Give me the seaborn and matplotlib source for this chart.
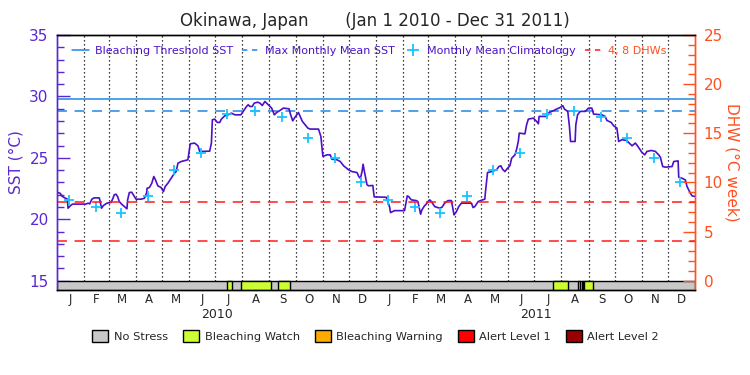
import pandas as pd
import matplotlib
matplotlib.use("Agg")
import matplotlib.pyplot as plt
import matplotlib.transforms as mtransforms
from matplotlib.lines import Line2D
from matplotlib.patches import Patch
from matplotlib.ticker import MultipleLocator
import seaborn as sns

# SST trace: days since 1 Jan 2010, degC
day_2010 = [0, 3.4, 6.1, 11.9, 12.6, 15.7, 17.6, 32.9, 35.6, 37.5, 39.8, 42.5, 48.3, 49.4,
            50.9, 53.2, 57.1, 61.7, 63.6, 65.5, 67.4, 69.3, 71.2, 73.9, 77.0, 80.0, 80.8,
            82.7, 85.4, 87.3, 90.4, 96.1, 100.0, 102.6, 103.0, 105.7, 108.4, 110.7, 112.6,
            115.3, 119.1, 121.8, 123.7, 126.8, 130.6, 134.4, 136.3, 138.3, 142.1, 149.7,
            152.4, 157.4, 161.2, 163.2, 174.6, 176.6, 177.7, 180.4, 183.4, 186.1, 188.0,
            191.9, 195.7, 199.5, 203.4, 210.3, 212.9, 216.8, 218.7, 220.6, 223.3, 225.6,
            229.4, 232.1, 234.8, 237.8, 241.7, 245.5, 248.6, 251.2, 255.1, 258.9, 265.4,
            266.9, 269.6, 271.5, 274.2, 276.1, 278.1, 280.7, 283.8, 286.9, 289.5, 299.1,
            301.8, 304.1, 308.7, 312.5, 314.4, 320.2, 324.0, 327.8, 333.6, 337.4, 343.2,
            345.1, 347.0, 348.9, 350.1, 351.6, 353.5, 354.6, 356.6, 361.2]
sst_2010 = [22.20, 22.12, 21.85, 21.63, 20.90, 21.12, 21.23, 21.23, 21.31, 21.25, 21.63,
            21.74, 21.74, 21.44, 20.90, 21.12, 21.31, 21.36, 21.63, 21.99, 22.04, 21.85,
            21.44, 21.23, 21.04, 20.85, 21.58, 22.17, 22.20, 21.99, 21.63, 21.63, 21.71,
            22.17, 22.52, 22.58, 22.93, 23.48, 23.21, 22.72, 22.58, 22.25, 22.66, 22.93,
            23.34, 23.75, 23.88, 24.56, 24.70, 24.84, 26.14, 26.20, 25.98, 25.52, 25.54,
            26.20, 28.10, 28.15, 27.88, 27.88, 28.15, 28.42, 28.50, 28.64, 28.50, 28.50,
            28.77, 29.18, 29.32, 29.18, 29.18, 29.45, 29.53, 29.45, 29.26, 29.59, 29.32,
            29.05, 28.50, 28.69, 28.86, 29.05, 28.99, 28.58, 28.01, 28.23, 28.50, 28.69,
            28.37, 27.96, 27.69, 27.42, 27.34, 27.34, 26.74, 25.11, 25.24, 25.24, 24.89,
            24.84, 24.70, 24.35, 24.02, 23.88, 23.80, 23.48, 23.34, 23.88, 24.48, 23.88,
            23.20, 22.80, 22.72, 22.75]
day_2011 = [362.8, 376.5, 380.3, 381.5, 386.0, 397.5, 400.6, 402.1, 405.2, 410.9, 412.8,
            415.9, 417.4, 419.7, 422.4, 426.2, 428.2, 432.0, 437.7, 440.4, 443.4, 447.2,
            451.1, 454.1, 456.8, 459.5, 462.5, 474.0, 475.9, 477.9, 481.7, 486.7, 489.3,
            490.1, 492.4, 497.0, 502.7, 505.4, 507.7, 509.6, 512.3, 515.4, 518.0, 520.0,
            523.8, 525.7, 527.6, 528.7, 535.2, 537.1, 539.1, 544.8, 548.6, 550.6, 551.4,
            560.2, 562.9, 565.9, 569.8, 575.5, 578.5, 580.5, 584.2, 586.1, 587.4, 592.6,
            593.4, 595.4, 598.4, 604.2, 608.0, 611.7, 613.7, 623.2, 627.0, 629.0, 633.9,
            636.6, 640.4, 642.4, 646.2, 651.9, 653.8, 657.7, 661.5, 664.5, 669.1, 672.2,
            674.8, 679.8, 684.4, 688.2, 690.1, 692.8, 695.8, 703.5, 705.4, 710.4, 711.1,
            714.9, 718.7, 720.6, 724.4, 726.4, 730.0]
sst_2011 = [21.82, 21.79, 21.03, 20.54, 20.70, 20.70, 21.90, 21.85, 21.58, 21.52, 21.44,
            20.41, 20.76, 21.03, 21.25, 21.58, 21.44, 21.03, 20.90, 20.98, 21.31, 21.52,
            21.52, 20.35, 20.62, 21.03, 21.31, 21.31, 20.95, 21.03, 21.44, 21.58, 21.63,
            22.25, 23.80, 23.88, 24.02, 24.29, 24.35, 24.07, 23.88, 24.16, 24.35, 24.97,
            25.24, 25.70, 26.33, 27.01, 26.95, 27.69, 28.15, 28.23, 27.96, 27.77, 28.37,
            28.37, 28.69, 28.78, 28.91, 29.10, 29.24, 28.96, 28.78, 27.55, 26.33, 26.33,
            27.69, 28.50, 28.78, 28.78, 29.05, 29.05, 28.56, 28.50, 28.37, 28.04, 27.88,
            27.61, 27.42, 26.33, 26.47, 26.41, 26.25, 25.98, 26.20, 25.92, 25.43, 25.24,
            25.52, 25.60, 25.52, 25.24, 25.05, 24.29, 24.24, 24.29, 24.70, 24.75, 23.42,
            23.34, 23.20, 22.66, 22.12, 21.90, 21.85]

# monthly mean climatology (Jan..Dec), same both years
clim_sst = [21.6, 21.0, 20.5, 21.9, 24.0, 25.4, 28.6, 28.8, 28.3, 26.6, 24.95, 23.0]

mmm = 28.8
bleach_thresh = 29.8
dhw_levels = [4, 8]

# bleaching watch periods
watch_start = ["2010-07-15", "2010-07-30", "2010-09-11", "2011-07-22", "2011-08-20",
               "2011-08-24", "2011-08-27"]
watch_end = ["2010-07-20", "2010-09-03", "2010-09-25", "2011-08-09", "2011-08-22",
             "2011-08-26", "2011-09-06"]

month_letters = ["J", "F", "M", "A", "M", "J", "J", "A", "S", "O", "N", "D"]
years = ["2010", "2011"]

stress_names = ["No Stress", "Bleaching Watch", "Bleaching Warning", "Alert Level 1", "Alert Level 2"]
stress_colors = ["#c8c8c8", "#ccff33", "#ffaa00", "#ff0000", "#990000"]

# colours
c_sst = "#4d0fc8"
c_left = "#5a28d2"
c_thr = "#1e88e5"
c_clim = "#19c3ff"
c_dhw = "#ff1a1a"
c_right = "#ff5020"

t0 = pd.Timestamp("2010-01-01")
month_starts = pd.date_range("2010-01-01", "2012-01-01", freq="MS")
ms_day = [(d - t0).days for d in month_starts]
mid_day = [(a + b) / 2 for a, b in zip(ms_day[:-1], ms_day[1:])]
clim_day = [(d - t0).days + 14 for d in month_starts[:-1]]

df = pd.DataFrame({"day": day_2010 + day_2011, "sst": sst_2010 + sst_2011})
clim = pd.DataFrame({"day": clim_day, "sst": clim_sst * 2})

sns.set_style("white")
plt.rcParams["font.family"] = ["DejaVu Sans"]

fig = plt.figure(figsize=(7.5, 3.75), dpi=100)
ax = fig.add_axes([0.076, 0.2267, 0.851, 0.68])
ax2 = ax.twinx()

y_lo = 14.24
ax.set_xlim(0, 730)
ax.set_ylim(y_lo, 35)
ax2.set_ylim(-0.95, 25)

# stress bar along the bottom
ax.broken_barh([(0, 730)], (y_lo, 15 - y_lo), facecolors=stress_colors[0],
               edgecolor="black", linewidth=1, zorder=3)
for s, e in zip(watch_start, watch_end):
    a = (pd.Timestamp(s) - t0).days
    b = (pd.Timestamp(e) - t0).days
    ax.broken_barh([(a, b - a)], (y_lo, 15 - y_lo), facecolors=stress_colors[1],
                   edgecolor="black", linewidth=1, zorder=3)

# month boundaries
bar_top = (15 - y_lo) / (35 - y_lo)
for d in ms_day[1:-1]:
    ax.axvline(d, ymin=bar_top, ymax=1, color="black", linestyle=(0, (1, 2.2)),
               linewidth=0.9, zorder=1)

ax.axhline(bleach_thresh, color=c_thr, linewidth=1.1, zorder=2)
ax.axhline(mmm, color=c_thr, linewidth=1.1, linestyle=(0, (6.5, 5)), zorder=2)
for lv in dhw_levels:
    ax2.axhline(lv, color=c_dhw, linewidth=1.1, linestyle=(0, (6.5, 5)), zorder=2)

sns.lineplot(data=df, x="day", y="sst", ax=ax, color=c_sst, linewidth=1.2,
             sort=False, estimator=None, zorder=4)
sns.scatterplot(data=clim, x="day", y="sst", ax=ax, marker="+", s=60, color=c_clim,
                linewidth=1.3, zorder=5)

# axes styling
ax.set_xlabel("")
ax.set_ylabel("SST (°C)", color=c_left, fontsize=11, labelpad=4)
ax2.set_ylabel("DHW (°C week)", color=c_right, fontsize=11, rotation=270, labelpad=12)

ax.yaxis.set_major_locator(MultipleLocator(5))
ax.yaxis.set_minor_locator(MultipleLocator(1))
ax2.yaxis.set_major_locator(MultipleLocator(5))
ax2.yaxis.set_minor_locator(MultipleLocator(1))
ax.tick_params(axis="y", which="major", direction="in", length=9, width=1,
               color=c_left, labelcolor=c_left, labelsize=11, pad=6)
ax.tick_params(axis="y", which="minor", direction="in", length=5, width=1, color=c_left)
ax2.tick_params(axis="y", which="major", direction="in", length=9, width=1,
                color=c_right, labelcolor=c_right, labelsize=11, pad=6)
ax2.tick_params(axis="y", which="minor", direction="in", length=5, width=1, color=c_right)

ax.set_xticks(ms_day)
ax.set_xticklabels([])
ax.set_xticks(mid_day, labels=month_letters * 2, minor=True)
ax.tick_params(axis="x", which="both", length=0, labelsize=8.5, pad=2)

for a in (ax, ax2):
    a.spines["top"].set_color("black")
    a.spines["bottom"].set_color("black")
    a.spines["left"].set_color(c_left)
    a.spines["right"].set_color(c_right)
    for sp in a.spines.values():
        sp.set_linewidth(1)

trans = mtransforms.blended_transform_factory(ax.transData, ax.transAxes)
for i, yr in enumerate(years):
    ax.text(ms_day[i * 12] + 182.5, -0.098, yr, transform=trans, ha="center",
            va="center", fontsize=9)

fig.text(0.5, 0.945, "Okinawa, Japan       (Jan 1 2010 - Dec 31 2011)",
         ha="center", va="center", fontsize=12)

# legend inside the plot
handles = [
    Line2D([], [], color=c_thr, linewidth=1.1),
    Line2D([], [], color=c_thr, linewidth=1.1, linestyle=(0, (3.5, 3))),
    Line2D([], [], color=c_clim, marker="+", linestyle="none", markersize=8, markeredgewidth=1.3),
    Line2D([], [], color=c_dhw, linewidth=1.1, linestyle=(0, (3.5, 3))),
]
labels = ["Bleaching Threshold SST", "Max Monthly Mean SST", "Monthly Mean Climatology", "4, 8 DHWs"]
leg = ax2.legend(handles, labels, ncol=4, frameon=False, loc="center left",
                 bbox_to_anchor=(0.016, 0.937), fontsize=8.0, handlelength=1.6,
                 handletextpad=0.5, columnspacing=0.8, borderaxespad=0)
for txt, col in zip(leg.get_texts(), ["#4a14c8"] * 3 + [c_right]):
    txt.set_color(col)

# stress legend under the chart
patches = [Patch(facecolor=c, edgecolor="black", linewidth=1) for c in stress_colors]
fig.legend(patches, stress_names, ncol=5, frameon=False, loc="center",
           bbox_to_anchor=(0.501, 0.104), fontsize=8.2, handlelength=1.4,
           handleheight=1.3, handletextpad=0.5, columnspacing=1.3)

fig.savefig("out.png", dpi=100)
